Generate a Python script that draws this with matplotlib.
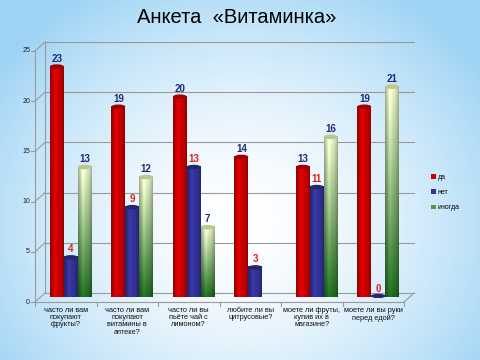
import numpy as np
import matplotlib
matplotlib.use('Agg')
import matplotlib.pyplot as plt
import matplotlib.transforms as mtransforms
from matplotlib.patches import Ellipse, Patch

plt.rcParams['font.family'] = ['Liberation Sans', 'DejaVu Sans']

categories = ['часто ли вам\nпокупают\nфрукты?',
              'часто ли вам\nпокупают\nвитамины в\nаптеке?',
              'часто ли вы\nпьёте чай с\nлимоном?',
              'любите ли вы\nцитрусовые?',
              'моете ли фруты,\nкупив их в\nмагазине?',
              'моете ли вы руки\nперед едой?']
series_names = ['да', 'нет', 'иногда']
da = [23, 19, 20, 14, 13, 19]
net = [4, 9, 13, 3, 11, 0]
inogda = [13, 12, 7, np.nan, 16, 21]
yticks = [0, 5, 10, 15, 20, 25]

fig = plt.figure(figsize=(4.8, 3.6), dpi=100)

# background gradient
bg = fig.add_axes([0, 0, 1, 1], zorder=-10)
yy, xx = np.mgrid[0:1:360j, 0:1:480j]
r = np.sqrt(((xx - 0.5) / 0.62) ** 2 + ((yy - 0.62) / 0.75) ** 2)
t = np.clip(r, 0, 1) ** 1.6
white = np.array([1.0, 1.0, 1.0])
blue = np.array([0.62, 0.83, 0.96])
img = white[None, None, :] * (1 - t[..., None]) + blue[None, None, :] * t[..., None]
bg.imshow(img, extent=[0, 1, 0, 1], aspect='auto', origin='upper')
bg.axis('off')

ax = fig.add_axes([40 / 480, 1 - 297.5 / 360, 369 / 480, 251 / 360])
ax.set_xlim(-0.5, 5.5)
ax.set_ylim(0, 25)
ax.axis('off')

front = ax.transData + mtransforms.ScaledTranslation(-0.05, -0.045, fig.dpi_scale_trans)
back = ax.transData + mtransforms.ScaledTranslation(0.05, 0.045, fig.dpi_scale_trans)
gcol = '#9a9a9a'

# back wall grid and 3d frame
for v in yticks:
    ax.plot([-0.5, 5.5], [v, v], color=gcol, lw=0.8, transform=back, clip_on=False, zorder=1)
ax.plot([-0.5, -0.5], [0, 25], color=gcol, lw=0.8, transform=back, clip_on=False, zorder=1)
for v in yticks:
    p0 = front.transform((-0.5, v))
    p1 = back.transform((-0.5, v))
    ax.plot([p0[0], p1[0]], [p0[1], p1[1]], color=gcol, lw=0.8,
            transform=None, clip_on=False, zorder=1)
p0 = front.transform((5.5, 0))
p1 = back.transform((5.5, 0))
ax.plot([p0[0], p1[0]], [p0[1], p1[1]], color=gcol, lw=0.8, transform=None, clip_on=False, zorder=1)
ax.plot([-0.5, 5.5], [0, 0], color=gcol, lw=0.8, transform=front, clip_on=False, zorder=1)
ax.plot([-0.5, -0.5], [0, 25], color=gcol, lw=0.8, transform=front, clip_on=False, zorder=1)

tick_off = mtransforms.ScaledTranslation(-0.05, 0, fig.dpi_scale_trans)
for v in yticks:
    a = front.transform((-0.5, v))
    ax.plot([a[0] - 4, a[0]], [a[1], a[1]], color=gcol, lw=0.8, transform=None, clip_on=False)
    ax.text(-0.5, v, str(v), transform=front + tick_off, ha='right', va='center',
            fontsize=5, color='#222222')
for i in range(7):
    a = front.transform((i - 0.5, 0))
    ax.plot([a[0], a[0]], [a[1], a[1] - 4], color=gcol, lw=0.8, transform=None, clip_on=False)

lab_off = mtransforms.ScaledTranslation(0, -0.05, fig.dpi_scale_trans)
for i, c in enumerate(categories):
    ax.text(i, 0, c, transform=front + lab_off, ha='center', va='top',
            fontsize=5.3, linespacing=1.05, color='#111111')

# cylinder bars
w = 0.226
x = np.arange(len(categories))
s = np.linspace(0, 1, 40)
shade = 0.55 + 0.45 * np.sin(np.pi * (s * 0.9 + 0.05)) ** 0.6
shade = shade + 0.15 * np.exp(-((s - 0.35) / 0.12) ** 2)


def draw_cyl(xc, h, kind):
    if np.isnan(h):
        return
    bar = ax.bar(xc, h, width=w, color='none', edgecolor='none', zorder=3)[0]
    if kind == 'green':
        v = np.linspace(0, 1, 60)[:, None]
        top = np.array([0.93, 0.96, 0.80])
        bot = np.array([0.12, 0.42, 0.12])
        col = bot * (1 - v[..., None]) + top * v[..., None]
        im = col * shade[None, :, None]
        capc = '#b9c98a'
    else:
        base = np.array([0.80, 0.0, 0.0]) if kind == 'red' else np.array([0.20, 0.20, 0.60])
        im = np.tile(base[None, None, :] * shade[None, :, None], (2, 1, 1))
        capc = '#a00000' if kind == 'red' else '#26266e'
    im = np.clip(im, 0, 1)
    hh = max(h, 0.15)
    ax.imshow(im, extent=[xc - w / 2, xc + w / 2, 0, hh], aspect='auto',
              origin='lower', zorder=3, clip_path=bar, interpolation='bilinear')
    ax.add_patch(Ellipse((xc, hh), w, 0.45, facecolor=capc, edgecolor='none', zorder=4))


offs = 0.0
for vals, dx, kind, tc in [(da, -w, 'red', '#1f2a7a'), (net, 0, 'blue', '#e02020'),
                           (inogda, w, 'green', '#1f2a7a')]:
    for xi, h in zip(x, vals):
        draw_cyl(xi + dx + offs, h, kind)
        if not np.isnan(h):
            ax.text(xi + dx + offs, h + 0.3, str(int(h)), ha='center', va='bottom',
                    fontsize=7, fontweight='bold', color=tc, zorder=5)

ax.set_xlim(-0.5, 5.5)
ax.set_ylim(0, 25)

handles = [Patch(facecolor='#cc0000', edgecolor='none'),
           Patch(facecolor='#333399', edgecolor='none'),
           Patch(facecolor='#5a9a3a', edgecolor='none')]
fig.legend(handles, series_names, loc='center left', bbox_to_anchor=(0.885, 0.465),
           frameon=False, fontsize=5, handlelength=0.7, handleheight=0.7,
           handletextpad=0.3, labelspacing=1.2)

fig.text(0.493, 0.952, 'Анкета  «Витаминка»', ha='center', va='center', fontsize=14.5)

fig.savefig('out.png', dpi=100)
